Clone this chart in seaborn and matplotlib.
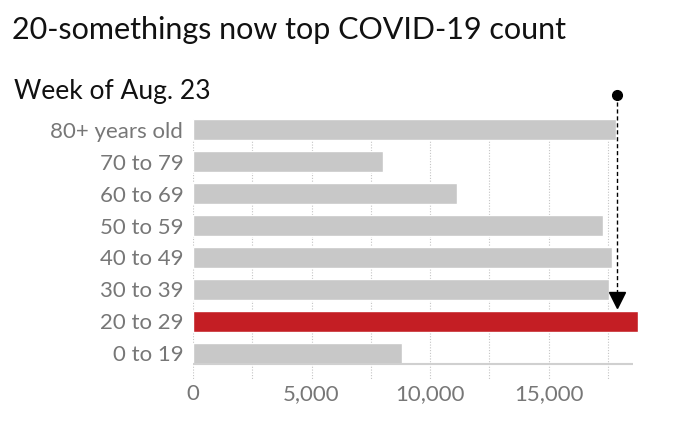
import matplotlib
matplotlib.use("Agg")
import matplotlib.pyplot as plt
import seaborn as sns
import pandas as pd

# Weekly COVID-19 case counts by age group, week of Aug. 23
age_groups = ["80+ years old", "70 to 79", "60 to 69", "50 to 59",
              "40 to 49", "30 to 39", "20 to 29", "0 to 19"]
cases = [17820, 8030, 11110, 17290, 17680, 17550, 18780, 8810]
highlight = "20 to 29"
marker_value = 17870  # previous top count (80+ years old), shown by the arrow

x_ticks = [0, 5000, 10000, 15000]
grid_ticks = [0, 2500, 5000, 7500, 10000, 12500, 15000, 17500]

df = pd.DataFrame({"age": age_groups, "cases": cases})
palette = {a: ("#c41e24" if a == highlight else "#c8c8c8") for a in age_groups}

sns.set_theme(style="white")
plt.rcParams["font.family"] = ["Lato", "DejaVu Sans"]

fig = plt.figure(figsize=(6.86, 4.32), dpi=100)
ax = fig.add_axes([193 / 686, 1 - 380 / 432, 440 / 686, 261 / 432])

sns.barplot(data=df, x="cases", y="age", hue="age", palette=palette,
            order=age_groups, width=0.66, legend=False, ax=ax,
            saturation=1, zorder=2)
for p in ax.patches:
    p.set_clip_on(False)

ax.set_xlim(0, 18550)
ax.set_ylim(7.83, -0.33)

# dotted vertical gridlines, reaching a bit below the baseline
ax.vlines(grid_ticks, -0.33, 7.83, colors="#c4c4c4", linestyles=(0, (1, 1.5)),
          linewidth=0.8, zorder=1)
ax.hlines(7.33, 0, 18550, colors="#d0d0d0", linewidth=1.5, zorder=3)

sns.despine(ax=ax, left=True, bottom=True)
ax.set_xticks(x_ticks)
ax.set_xticklabels([f"{t:,}" for t in x_ticks])
ax.tick_params(axis="x", length=0, pad=3, labelsize=16, labelcolor="#777777")
ax.tick_params(axis="y", length=0, pad=7, labelsize=16, labelcolor="#777777")
ax.set_xlabel("")
ax.set_ylabel("")

# arrow from the previous top count down to the new leader
top_row = age_groups.index(highlight) - 0.33
ax.plot([marker_value, marker_value], [-1.08, top_row - 0.5], color="black",
        linestyle=(0, (3, 2)), linewidth=1, clip_on=False, zorder=4)
ax.plot(marker_value, -1.08, "o", color="black", markersize=7, clip_on=False, zorder=4)
ax.plot(marker_value, top_row - 0.34, "v", color="black", markersize=11,
        clip_on=False, zorder=4)

fig.text(12 / 686, 1 - 39 / 432, "20-somethings now top COVID-19 count",
         fontsize=22, color="#111111", ha="left", va="baseline")
fig.text(14 / 686, 1 - 99 / 432, "Week of Aug. 23", fontsize=19,
         color="#111111", ha="left", va="baseline")

fig.savefig("out.png", dpi=100, facecolor="white")
